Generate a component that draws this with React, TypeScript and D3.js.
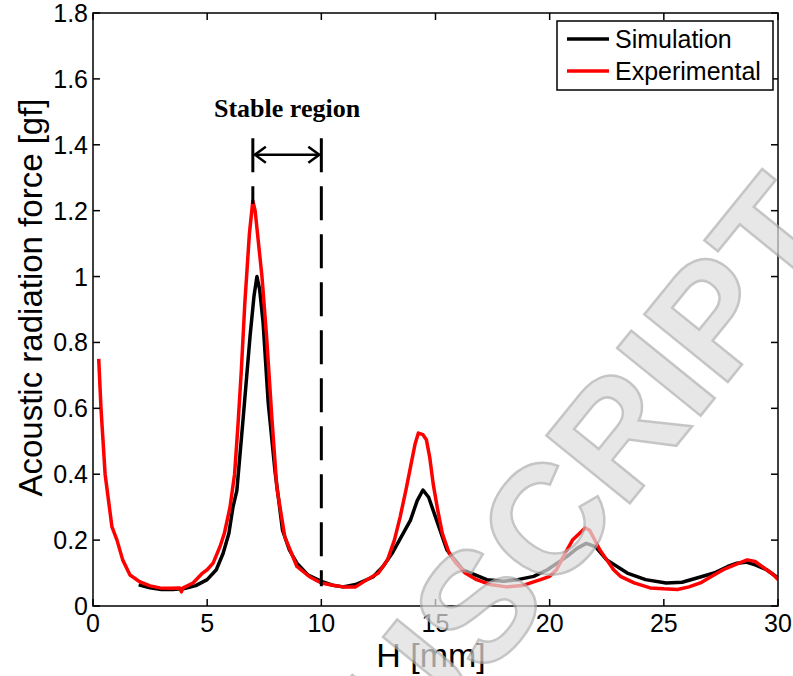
import React from 'react';
import * as d3 from 'd3';

// Experimental (red) curve
const expH = [0.25, 0.35, 0.53, 0.83, 1.05, 1.3, 1.62, 2.06, 2.5, 2.93, 3.4, 3.8, 3.87, 3.95, 4.38, 4.8, 5.0, 5.26, 5.56, 5.75, 6.0, 6.2, 6.35, 6.5, 6.65, 6.85, 7.0, 7.1, 7.25, 7.4, 7.6, 7.84, 8.05, 8.4, 8.93, 9.5, 10.0, 10.5, 10.95, 11.5, 12.0, 12.5, 12.9, 13.2, 13.45, 13.7, 13.9, 14.1, 14.25, 14.45, 14.6, 14.75, 14.9, 15.1, 15.3, 15.6, 15.9, 16.3, 16.8, 17.4, 18.1, 18.8, 19.6, 20.0, 20.3, 20.6, 21.0, 21.3, 21.55, 21.75, 21.9, 22.2, 22.5, 22.8, 23.1, 23.7, 24.4, 25.0, 25.6, 26.1, 26.6, 27.1, 27.6, 28.1, 28.65, 29.0, 29.5, 29.8, 30.0];
const expF = [0.75, 0.60, 0.40, 0.24, 0.20, 0.14, 0.094, 0.073, 0.061, 0.055, 0.054, 0.055, 0.043, 0.055, 0.07, 0.10, 0.11, 0.13, 0.18, 0.22, 0.30, 0.40, 0.55, 0.72, 0.92, 1.13, 1.23, 1.20, 1.10, 1.0, 0.82, 0.565, 0.36, 0.21, 0.12, 0.088, 0.07, 0.063, 0.058, 0.058, 0.08, 0.10, 0.14, 0.20, 0.27, 0.35, 0.42, 0.49, 0.525, 0.52, 0.505, 0.45, 0.37, 0.29, 0.22, 0.16, 0.13, 0.10, 0.08, 0.065, 0.058, 0.062, 0.08, 0.09, 0.11, 0.15, 0.20, 0.22, 0.237, 0.23, 0.21, 0.17, 0.14, 0.11, 0.09, 0.07, 0.055, 0.052, 0.05, 0.058, 0.07, 0.09, 0.11, 0.125, 0.14, 0.135, 0.11, 0.095, 0.08];

// Simulation (black) curve
const simH = [2.0, 2.5, 3.0, 3.5, 4.0, 4.5, 5.0, 5.4, 5.7, 5.95, 6.13, 6.3, 6.57, 6.88, 7.05, 7.18, 7.3, 7.45, 7.67, 7.97, 8.3, 8.6, 8.93, 9.4, 10.0, 10.5, 10.95, 11.5, 12.26, 12.7, 13.1, 13.5, 13.9, 14.2, 14.45, 14.7, 15.05, 15.5, 16.2, 17.25, 18.0, 18.6, 19.3, 19.9, 20.75, 21.2, 21.6, 22.0, 22.5, 23.4, 24.2, 25.1, 25.8, 26.6, 27.2, 27.8, 28.2, 28.6, 29.0, 29.5, 30.0];
const simF = [0.064, 0.055, 0.05, 0.05, 0.053, 0.062, 0.08, 0.11, 0.16, 0.22, 0.30, 0.35, 0.565, 0.82, 0.94, 1.0, 0.96, 0.86, 0.62, 0.41, 0.23, 0.17, 0.13, 0.095, 0.075, 0.063, 0.058, 0.065, 0.088, 0.12, 0.16, 0.21, 0.26, 0.32, 0.352, 0.33, 0.26, 0.17, 0.11, 0.08, 0.075, 0.08, 0.09, 0.11, 0.15, 0.175, 0.19, 0.18, 0.14, 0.10, 0.08, 0.07, 0.072, 0.088, 0.10, 0.12, 0.13, 0.133, 0.125, 0.11, 0.085];

const xTicks = [0, 5, 10, 15, 20, 25, 30];
const yTicks = [0, 0.2, 0.4, 0.6, 0.8, 1, 1.2, 1.4, 1.6, 1.8];
const yTickLabels = ['0', '0.2', '0.4', '0.6', '0.8', '1', '1.2', '1.4', '1.6', '1.8'];

// stable region annotation (mm / gf)
const stableH = [7, 10];
const stableBottom = [1.22, 0.06];
const stableTop = 1.42;
const arrowF = 1.37;

const W = 793;
const H = 676;
const margin = { left: 93, right: 15, top: 13, bottom: 70 };
const sans = "'Liberation Sans', Arial, sans-serif";

export default function App() {
  const x = d3.scaleLinear().domain([0, 30]).range([margin.left, W - margin.right]);
  const y = d3.scaleLinear().domain([0, 1.8]).range([H - margin.bottom, margin.top]);
  const x0 = x(0), x1 = x(30), y0 = y(0), y1 = y(1.8);

  const path = (hs: number[], fs: number[]) =>
    d3.line<[number, number]>().x(d => x(d[0])).y(d => y(d[1]))(hs.map((h, i) => [h, fs[i]] as [number, number])) || '';

  const tick = 7;
  const ax = x(stableH[0]);
  const bx = x(stableH[1]);
  const ay = y(arrowF);

  return (
    <svg width={W} height={H} style={{ position: 'absolute', left: 0, top: 0, background: '#fff' }}>
      <rect x={0} y={0} width={W} height={H} fill="#fff" />
      <defs>
        <clipPath id="clip"><rect x={x0} y={y1} width={x1 - x0} height={y0 - y1} /></clipPath>
        <clipPath id="page"><rect x={0} y={0} width={W} height={H} /></clipPath>
      </defs>
      {/* curves */}
      <g clipPath="url(#clip)">
        <path d={path(simH, simF)} fill="none" stroke="#000" strokeWidth={3.5} strokeLinejoin="round" />
        <path d={path(expH, expF)} fill="none" stroke="#ff0000" strokeWidth={3.5} strokeLinejoin="round" />
      </g>

      {/* stable region annotation */}
      {stableH.map((h, i) => (
        <line key={'s' + i} x1={x(h)} x2={x(h)} y1={y(stableTop)} y2={y(stableBottom[i])}
          stroke="#000" strokeWidth={3} strokeDasharray="34,14" />
      ))}
      <line x1={ax + 2} x2={bx - 2} y1={ay} y2={ay} stroke="#000" strokeWidth={2.5} />
      <path d={`M${ax + 13},${ay - 8} L${ax + 2},${ay} L${ax + 13},${ay + 8}`} fill="none" stroke="#000" strokeWidth={2.5} />
      <path d={`M${bx - 13},${ay - 8} L${bx - 2},${ay} L${bx - 13},${ay + 8}`} fill="none" stroke="#000" strokeWidth={2.5} />
      <text x={(ax + bx) / 2} y={117} textAnchor="middle" fontFamily="'Liberation Serif', 'Times New Roman', serif"
        fontWeight="bold" fontSize={26}>Stable region</text>

      {/* axes box */}
      <rect x={x0} y={y1} width={x1 - x0} height={y0 - y1} fill="none" stroke="#000" strokeWidth={1.5} />
      {xTicks.map(t => (
        <g key={'x' + t}>
          <line x1={x(t)} x2={x(t)} y1={y0} y2={y0 - tick} stroke="#000" strokeWidth={1.5} />
          <line x1={x(t)} x2={x(t)} y1={y1} y2={y1 + tick} stroke="#000" strokeWidth={1.5} />
          <text x={x(t)} y={632} textAnchor="middle" fontFamily={sans} fontSize={25}>{t}</text>
        </g>
      ))}
      {yTicks.map((t, i) => (
        <g key={'y' + t}>
          <line x1={x0} x2={x0 + tick} y1={y(t)} y2={y(t)} stroke="#000" strokeWidth={1.5} />
          <line x1={x1} x2={x1 - tick} y1={y(t)} y2={y(t)} stroke="#000" strokeWidth={1.5} />
          <text x={x0 - 5} y={y(t) + 9} textAnchor="end" fontFamily={sans} fontSize={25}>{yTickLabels[i]}</text>
        </g>
      ))}

      {/* axis labels */}
      <text x={431} y={667} textAnchor="middle" fontFamily={sans} fontSize={34}>H [mm]</text>
      <text transform={`translate(42,${(y0 + y1) / 2 - 12}) rotate(-90)`} textAnchor="middle" fontFamily={sans} fontSize={33}>
        Acoustic radiation force [gf]
      </text>

      {/* legend */}
      <rect x={557} y={21} width={216} height={69} fill="#fff" stroke="#000" strokeWidth={1.5} />
      <line x1={567} x2={609} y1={39} y2={39} stroke="#000" strokeWidth={3.5} />
      <line x1={567} x2={609} y1={71} y2={71} stroke="#ff0000" strokeWidth={3.5} />
      <text x={615} y={48} fontFamily={sans} fontSize={25}>Simulation</text>
      <text x={615} y={80} fontFamily={sans} fontSize={25}>Experimental</text>

      {/* watermark */}
      <g clipPath="url(#page)">
        <text transform="translate(476,604) rotate(-51)" y={56} textAnchor="middle" fontFamily={sans} fontSize={156}
          fontWeight="bold" fill="#dedede" stroke="#b0b0b0" strokeWidth={2.5} opacity={0.72}>MANUSCRIPT</text>
      </g>
    </svg>
  );
}
